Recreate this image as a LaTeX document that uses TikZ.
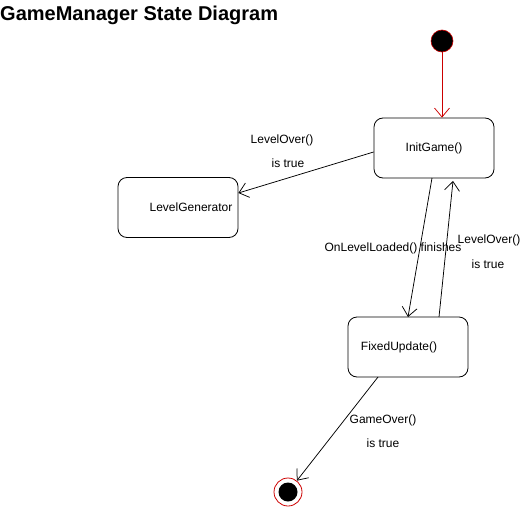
\documentclass[tikz,border=0pt]{standalone}
\usepackage{fontspec}
\setmainfont{Liberation Sans}
\usetikzlibrary{arrows.meta}
\definecolor{stred}{RGB}{204,0,0}
\begin{document}
\begin{tikzpicture}[x=1pt,y=-1pt,
  state/.style={draw,rounded corners=9pt,minimum width=120pt,minimum height=60pt,line width=0.8pt,font=\fontsize{12}{14}\selectfont},
  lbl/.style={font=\fontsize{12}{14}\selectfont,inner sep=0pt},
  trans/.style={line width=0.75pt,-{Straight Barb[length=9pt,width=15pt]}}]
\useasboundingbox (0,0) rectangle (521,508);
\node[anchor=west,font=\fontsize{20}{23}\selectfont\bfseries,inner sep=0pt] (title) at (0,15) {GameManager State Diagram};
\node[circle,fill=black,draw=stred,line width=0.6pt,minimum size=22pt,inner sep=0pt] (start) at (442,41) {};
\node[state] (init) at (434,148) {InitGame()};
\node[state] (gen) at (178,207.5) {\hspace*{26pt}LevelGenerator};
\node[state] (fixed) at (408,347) {FixedUpdate()\hspace*{18pt}};
\node[circle,draw=stred,line width=0.8pt,minimum size=28pt,inner sep=0pt] (end) at (288,492) {};
\node[circle,fill=black,minimum size=19pt,inner sep=0pt] (endin) at (288,492) {};
\draw[trans,draw=stred] (start) -- (init.north -| start);
\draw[trans] (init.west |- 0,152) -- (gen.east |- 0,193);
\coordinate (a1) at (432,178);
\coordinate (a2) at (408,317);
\coordinate (b1) at (439,317);
\coordinate (b2) at (453,181);
\coordinate (c1) at (378,377);
\draw[trans] (a1) -- (a2);
\draw[trans] (b1) -- (b2);
\draw[trans] (c1) -- (end);
\node[lbl] (l1) at (282,140) {LevelOver()};
\node[lbl] (l2) at (288,163) {is true};
\node[lbl] (l3) at (393,248) {OnLevelLoaded() finishes};
\node[lbl] (l4) at (489,240) {LevelOver()};
\node[lbl] (l5) at (488,264) {is true};
\node[lbl] (l6) at (383,420) {GameOver()};
\node[lbl] (l7) at (383,443) {is true};
\end{tikzpicture}
\end{document}
